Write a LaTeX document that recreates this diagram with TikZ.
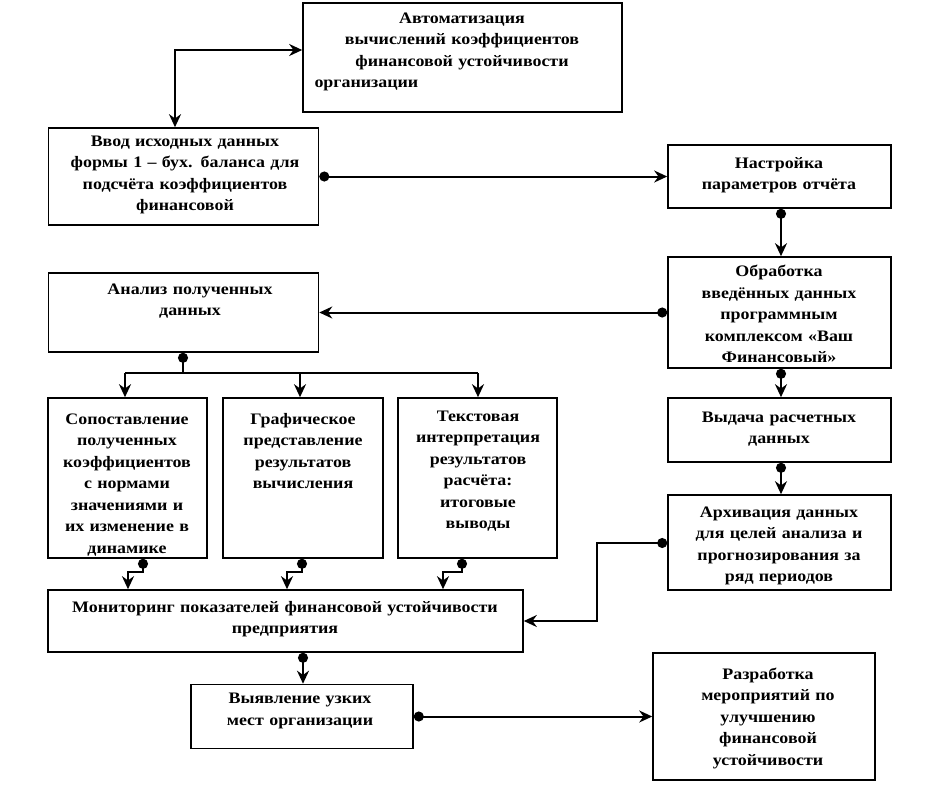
\documentclass[tikz,border=0pt]{standalone}
\usepackage{fontspec}
\setmainfont{Liberation Serif}[FakeStretch=1.12]
\usetikzlibrary{arrows.meta}
\begin{document}
\begin{tikzpicture}[x=1pt,y=-1pt,
  box/.style={draw, line width=1.6pt, inner sep=0pt},
  txt/.style={align=center, font=\fontsize{16}{21.5}\selectfont\bfseries, inner sep=0pt},
  flow/.style={line width=2pt, {Circle[length=10pt]}-{Stealth[length=13pt,width=12pt]}},
  arr/.style={line width=2pt, -{Stealth[length=13pt,width=12pt]}},
  flowb/.style={line width=2pt, {Stealth[length=13pt,width=12pt]}-{Stealth[length=13pt,width=12pt]}}]
\useasboundingbox (0,0) rectangle (934,788);
\fill[white] (0,0) rectangle (934,788);

% boxes
\node[box, minimum width=319pt, minimum height=109pt] (A) at (462.5,57.5) {};
\node[box, minimum width=270pt, minimum height=97pt] (B) at (183.5,176.5) {};
\node[box, minimum width=223pt, minimum height=63pt] (C) at (779.5,176.5) {};
\node[box, minimum width=223pt, minimum height=111pt] (D) at (779.5,312.5) {};
\node[box, minimum width=270pt, minimum height=79pt] (E) at (183.5,312.5) {};
\node[box, minimum width=159pt, minimum height=160pt] (G1) at (127.5,478) {};
\node[box, minimum width=160pt, minimum height=160pt] (G2) at (303,478) {};
\node[box, minimum width=159pt, minimum height=160pt] (G3) at (477.5,478) {};
\node[box, minimum width=223pt, minimum height=64pt] (F) at (779.5,430) {};
\node[box, minimum width=223pt, minimum height=95pt] (H) at (779.5,542.5) {};
\node[box, minimum width=475pt, minimum height=62pt] (I) at (285.5,621) {};
\node[box, minimum width=222pt, minimum height=64pt] (J) at (302,716.5) {};
\node[box, minimum width=222pt, minimum height=127pt] (K) at (764,716.5) {};

% texts
\node[txt, text width=305pt] (tA) at (462,52) {Автоматизация\\вычислений коэффициентов\\финансовой устойчивости\\\makebox[295pt][l]{организации}};
\node[txt, text width=265pt] (tB) at (185,175) {Ввод исходных данных\\формы 1 – бух. баланса для\\подсчёта коэффициентов\\финансовой};
\node[txt, text width=215pt] (tC) at (779,175) {Настройка\\параметров отчёта};
\node[txt, text width=215pt] (tD) at (779,314) {Обработка\\введённых данных\\программным\\комплексом «Ваш\\Финансовый»};
\node[txt, text width=265pt] (tE) at (190,301) {Анализ полученных\\данных};
\node[txt, text width=155pt] (tG1) at (127,485) {Сопоставление\\полученных\\коэффициентов\\с нормами\\значениями и\\их изменение в\\динамике};
\node[txt, text width=155pt] (tG2) at (303,451) {Графическое\\представление\\результатов\\вычисления};
\node[txt, text width=155pt] (tG3) at (478,471) {Текстовая\\интерпретация\\результатов\\расчёта:\\итоговые\\выводы};
\node[txt, text width=215pt] (tF) at (779,429) {Выдача расчетных\\данных};
\node[txt, text width=218pt] (tH) at (779,546) {Архивация данных\\для целей анализа и\\прогнозирования за\\ряд периодов};
\node[txt, text width=470pt] (tI) at (285,619) {Мониторинг показателей финансовой устойчивости\\предприятия};
\node[txt, text width=218pt] (tJ) at (300,711) {Выявление узких\\мест организации};
\node[txt, text width=218pt] (tK) at (768,718) {Разработка\\мероприятий по\\улучшению\\финансовой\\устойчивости};

% helper coordinates
\coordinate (ab) at (175,50);
\coordinate (eb) at (183,373);
\coordinate (br1) at (125,373);
\coordinate (br2) at (300,373);
\coordinate (br3) at (478,373);
\coordinate (g1b) at (143,572);
\coordinate (g1a) at (128,572);
\coordinate (g2b) at (302,572);
\coordinate (g2a) at (287,572);
\coordinate (g3b) at (462,572);
\coordinate (g3a) at (443,572);
\coordinate (hb) at (597,543);
\coordinate (ij) at (303,0);
\coordinate (cd) at (781,0);

% connectors
\draw[flowb] (B.north -| ab) -- (ab) -- (A.west |- ab);
\draw[flow] (B.east |- C.west) -- (C.west);
\draw[flow] (C.south -| cd) -- (D.north -| cd);
\draw[flow] (D.west) -- (E.east |- D.west);
\draw[flow] (D.south -| cd) -- (F.north -| cd);
\draw[flow] (F.south -| cd) -- (H.north -| cd);
\draw[line width=2pt, {Circle[length=10pt]}-] (E.south -| eb) -- (eb);
\draw[line width=2pt] (br1) -- (br3);
\draw[arr] (br1) -- (G1.north -| br1);
\draw[arr] (br2) -- (G2.north -| br2);
\draw[arr] (br3) -- (G3.north -| br3);
\draw[flow] (G1.south -| g1b) -- (g1b) -- (g1a) -- (I.north -| g1a);
\draw[flow] (G2.south -| g2b) -- (g2b) -- (g2a) -- (I.north -| g2a);
\draw[flow] (G3.south -| g3b) -- (g3b) -- (g3a) -- (I.north -| g3a);
\draw[flow] (H.west |- hb) -- (hb) |- (I.east);
\draw[flow] (I.south -| ij) -- (J.north -| ij);
\draw[flow] (J.east) -- (K.west |- J.east);
\end{tikzpicture}
\end{document}
